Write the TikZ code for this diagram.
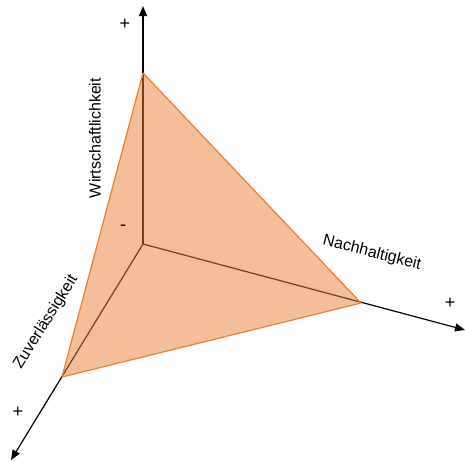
\documentclass[tikz,border=0pt]{standalone}
\usepackage{fontspec}
\setmainfont{Liberation Sans}
\usetikzlibrary{arrows.meta}
\definecolor{tri}{RGB}{237,125,49}
\begin{document}
\begin{tikzpicture}[x=1pt,y=-1pt,
  axis/.style={line width=1.2pt,-{Triangle[length=10pt,width=8pt]}},
  lab/.style={font=\fontsize{16}{18}\selectfont,inner sep=0pt},
  sign/.style={font=\fontsize{18}{20}\selectfont,inner sep=0pt}]
\useasboundingbox (0,0) rectangle (465,461);
\coordinate (O) at (143,244);
\coordinate (T) at (143,6);
\coordinate (R) at (465,330);
\coordinate (L) at (11,460);
\coordinate (A) at (143,73);
\coordinate (B) at (361,303);
\coordinate (C) at (62,377);
\draw[axis] (O) -- (T);
\draw[axis] (O) -- (R);
\draw[axis] (O) -- (L);
\filldraw[fill=tri,fill opacity=0.5,draw=tri,line width=1.2pt,line join=round] (A) -- (B) -- (C) -- cycle;
\node[sign] (p1) at (125,24) {+};
\node[sign] (p2) at (450,303) {+};
\node[sign] (p3) at (18,412) {+};
\node[sign] (m) at (123,228) {-};
\node[lab,rotate=90] (w) at (95,138) {Wirtschaftlichkeit};
\node[lab,rotate=-14] (n) at (372,253) {Nachhaltigkeit};
\node[lab,rotate=58] (z) at (46,322) {Zuverlässigkeit};
\end{tikzpicture}
\end{document}
